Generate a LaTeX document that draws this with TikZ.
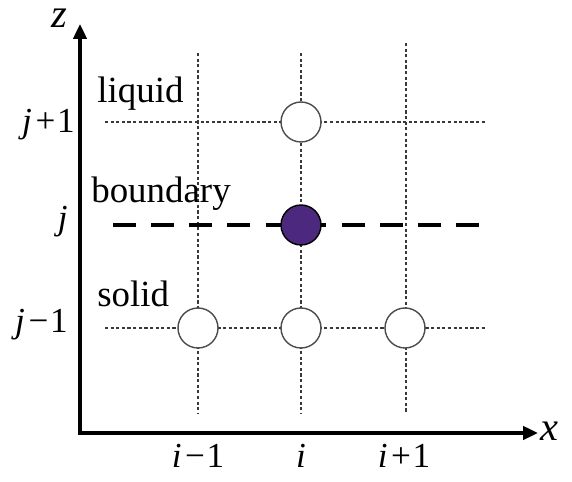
\documentclass[tikz,border=0pt]{standalone}
\usepackage{fontspec}
\setmainfont{Liberation Serif}
\usetikzlibrary{arrows.meta}
\definecolor{bndpurple}{RGB}{76,40,126}

\begin{document}
\begin{tikzpicture}[
    x=0.02cm, y=-0.02cm,
    axis/.style={line width=2.3pt, {Triangle[length=8.5pt, width=7.5pt]}-{Triangle[length=8.5pt, width=7.5pt]}},
    grid/.style={line width=0.65pt, gray!45!black, dash pattern=on 1.8pt off 1.4pt},
    bnd/.style={line width=2.7pt, dash pattern=on 13pt off 8.7pt},
    site/.style={circle, draw=gray!60!black, line width=0.8pt, fill=white,
                 minimum size=0.8cm, inner sep=0pt},
    lbl/.style={inner sep=0pt, font=\fontsize{21}{25}\selectfont},
    idx/.style={inner sep=0pt, font=\fontsize{20}{24}\selectfont},
    axlbl/.style={inner sep=0pt, font=\fontsize{23}{27}\selectfont\itshape}
]
\useasboundingbox (0,0) rectangle (572,482);

% Grid
\foreach \n/\xx/\yt in {im/198/53, ic/301/53, ip/406/43} {
  \coordinate (\n-t) at (\xx,\yt);
  \coordinate (\n-b) at (\xx,413);
  \draw[grid] (\n-t) -- (\n-b);
}
\foreach \n/\yy in {jp/122, jm/328} {
  \coordinate (\n-l) at (105,\yy);
  \coordinate (\n-r) at (487,\yy);
  \draw[grid] (\n-l) -- (\n-r);
}

% Boundary
\coordinate (jc-l) at (113,225);
\coordinate (jc-r) at (483,225);
\draw[bnd] (jc-l) -- (jc-r);

% Axes
\coordinate (O) at (80,433);
\coordinate (ztop) at (80,24);
\coordinate (xend) at (538,433);
\draw[axis] (ztop) -- (O) -- (xend);
\node[axlbl] (zlbl) at (59,18) {z};
\node[axlbl] (xlbl) at (549,431) {x};

% Nodes
\node[site] (p-jp) at (301,122) {};
\node[site, fill=bndpurple, draw=black] (p-j) at (301,225) {};
\node[site] (p-im) at (198,328) {};
\node[site] (p-i) at (301,328) {};
\node[site] (p-ip) at (405,328) {};

% Labels
\node[lbl, anchor=base west] (liq) at (97,103) {liquid};
\node[lbl, anchor=base west] (bdy) at (91,203) {boundary};
\node[lbl, anchor=base west] (sol) at (97,307) {solid};

\node[idx, anchor=base east] (jp) at (75,133) {\textit{j}\hspace{0.1em}+\hspace{0.05em}1};
\node[idx, anchor=base east] (j) at (68,230) {\textit{j}};
\node[idx, anchor=base east] (jm) at (68,333) {\textit{j}\hspace{0.1em}−\hspace{0.05em}1};

\node[idx, anchor=base] (im) at (198,468) {\textit{i}\hspace{0.1em}−\hspace{0.05em}1};
\node[idx, anchor=base] (i) at (301,468) {\textit{i}};
\node[idx, anchor=base] (ip) at (404,468) {\textit{i}\hspace{0.1em}+\hspace{0.05em}1};

\end{tikzpicture}
\end{document}
